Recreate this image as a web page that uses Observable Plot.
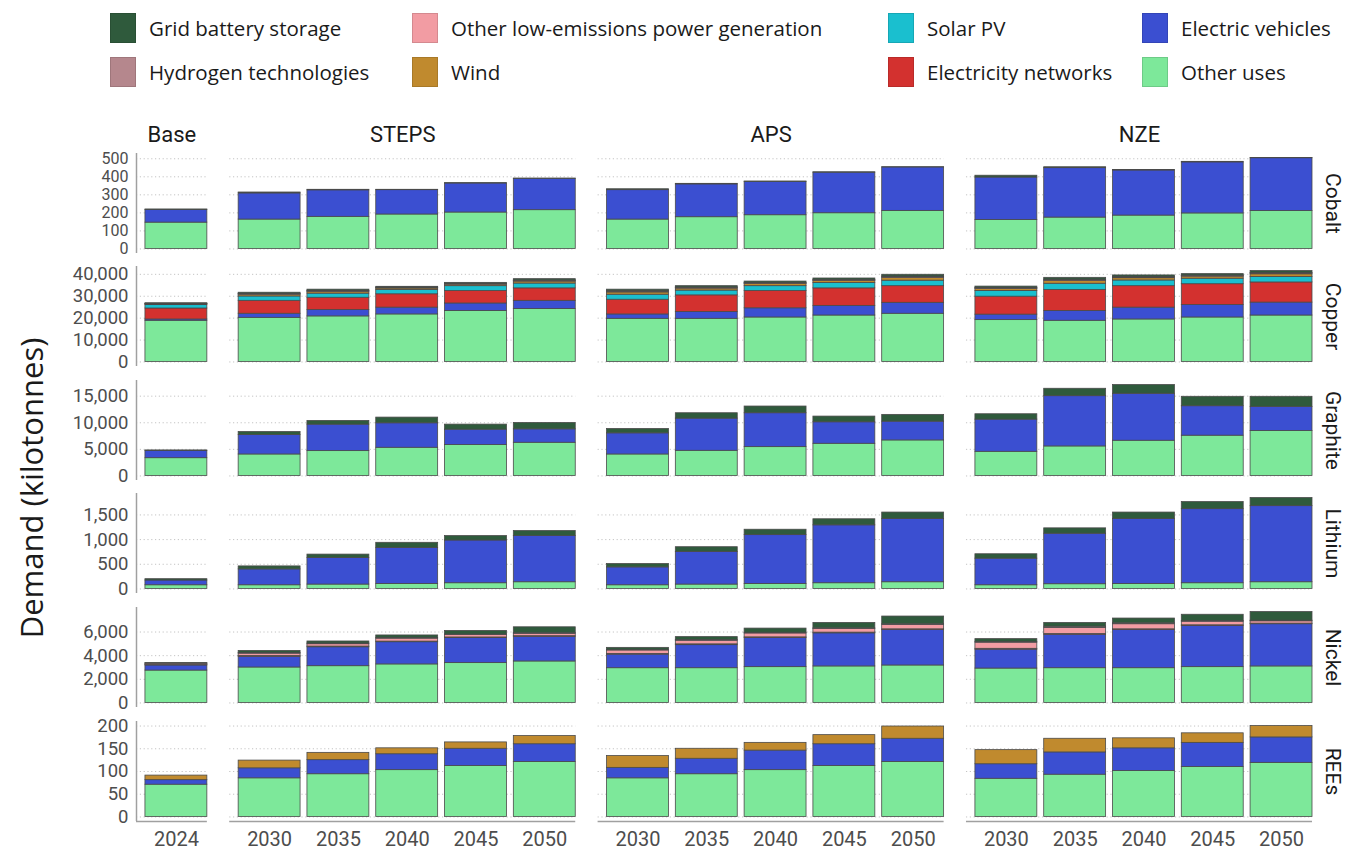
<!DOCTYPE html>
<html>
<head>
<meta charset="utf-8">
<script src="https://cdn.jsdelivr.net/npm/d3@7"></script>
<script src="https://cdn.jsdelivr.net/npm/@observablehq/plot@0.6"></script>
<style>
  body { margin: 0; background: #fff; font-family: Roboto, sans-serif; }
  #chart { position: relative; width: 1354px; height: 852px; overflow: hidden; background: #fff; }
  .legend { position: absolute; left: 110px; top: 13px; display: grid;
    grid-template-columns: 302px 476px 254px auto; grid-template-rows: 30px 30px;
    row-gap: 14px; grid-auto-flow: column; }
  .item { display: flex; align-items: center; font-family: "Open Sans", sans-serif; font-size: 20.5px; color: #1a1a1a; white-space: nowrap; }
  .sw { width: 26px; height: 30px; margin-right: 13px; box-sizing: border-box; border: 1px solid rgba(0,0,0,0.12); flex: none; }
  .ytitle { position: absolute; left: 31px; top: 488px; transform: translate(-50%, -50%) rotate(-90deg);
    font-family: "Open Sans", sans-serif; font-size: 31px; color: #1a1a1a; white-space: nowrap; }
  .row { position: absolute; left: 0; width: 1354px; }
</style>
</head>
<body>
<div id="chart"></div>
<script>
// Scenarios and the years shown under each
const scenarios = ["Base", "STEPS", "APS", "NZE"];
const scenarioYears = [
  ["2024"],
  ["2030", "2035", "2040", "2045", "2050"],
  ["2030", "2035", "2040", "2045", "2050"],
  ["2030", "2035", "2040", "2045", "2050"]
];

// End uses, stacked bottom to top
const categories = [
  "Other uses", "Electric vehicles", "Electricity networks", "Solar PV",
  "Wind", "Other low-emissions power generation", "Hydrogen technologies", "Grid battery storage"
];
const categoryColors = [
  "#7de89a", "#3b4fd1", "#d3312f", "#1abfcf",
  "#c08a2e", "#f29ca3", "#b5878d", "#2f5a3c"
];

const minerals = ["Cobalt", "Copper", "Graphite", "Lithium", "Nickel", "REEs"];

// Axis tick values per mineral
const cobaltTicks = [0, 100, 200, 300, 400, 500];
const copperTicks = [0, 10000, 20000, 30000, 40000];
const graphiteTicks = [0, 5000, 10000, 15000];
const lithiumTicks = [0, 500, 1000, 1500];
const nickelTicks = [0, 2000, 4000, 6000];
const reesTicks = [0, 50, 100, 150, 200];

// Demand in kilotonnes; 16 bars: Base 2024, then STEPS, APS, NZE for 2030..2050
const cobalt = {
  "Other uses":           [146, 163, 178, 191, 202, 215, 163, 176, 187, 198, 211, 161, 174, 185, 197, 210],
  "Electric vehicles":    [70, 145, 147, 135, 161, 174, 163, 182, 185, 225, 241, 235, 274, 250, 283, 293],
  "Grid battery storage": [3, 5, 3, 2, 2, 1, 5, 3, 2, 2, 1, 10, 5, 3, 3, 1]
};
const copper = {
  "Other uses":           [18800, 20150, 20800, 21700, 23300, 24200, 19700, 19700, 20300, 21200, 22000, 19100, 18800, 19400, 20300, 21200],
  "Electric vehicles":    [600, 1850, 2900, 3100, 3400, 3700, 2000, 3100, 4200, 4400, 5000, 2500, 4500, 5400, 5700, 5900],
  "Electricity networks": [5000, 5900, 5600, 6100, 5700, 5700, 6700, 7600, 7900, 8000, 7600, 8200, 9600, 9800, 9500, 9200],
  "Solar PV":             [1550, 2000, 1900, 2000, 2200, 2200, 2300, 2200, 2200, 2400, 2500, 2600, 2800, 2600, 2500, 2500],
  "Wind":                 [380, 770, 810, 630, 680, 900, 1040, 900, 950, 950, 1220, 900, 1220, 1040, 950, 1220],
  "Other low-emissions power generation": [130, 250, 270, 210, 220, 300, 340, 300, 310, 310, 400, 300, 400, 340, 310, 400],
  "Hydrogen technologies": [80, 170, 180, 140, 150, 200, 230, 200, 210, 210, 270, 200, 270, 230, 210, 270],
  "Grid battery storage": [260, 510, 540, 420, 450, 600, 690, 600, 630, 630, 810, 600, 810, 690, 630, 810]
};
const graphite = {
  "Other uses":           [3340, 4040, 4670, 5300, 5800, 6240, 4040, 4730, 5420, 6050, 6680, 4540, 5550, 6620, 7570, 8450],
  "Electric vehicles":    [1360, 3650, 4980, 4600, 2900, 2520, 3970, 6050, 6370, 4040, 3530, 6050, 9450, 8830, 5540, 4540],
  "Grid battery storage": [100, 570, 690, 1070, 950, 1200, 820, 1010, 1260, 1070, 1270, 1010, 1390, 1640, 1770, 1890]
};
const lithium = {
  "Other uses":           [75, 75, 89, 102, 116, 136, 75, 89, 102, 116, 136, 75, 96, 102, 116, 136],
  "Electric vehicles":    [96, 321, 539, 730, 866, 935, 362, 661, 989, 1173, 1283, 539, 1023, 1317, 1501, 1542],
  "Grid battery storage": [27, 61, 68, 103, 89, 102, 68, 96, 109, 123, 129, 89, 109, 129, 143, 164]
};
const nickel = {
  "Other uses":           [2740, 3000, 3110, 3260, 3370, 3510, 2940, 2940, 3030, 3090, 3170, 2910, 2940, 2940, 3030, 3090],
  "Electric vehicles":    [430, 910, 1600, 1880, 2120, 2090, 1150, 1950, 2460, 2800, 3000, 1600, 2830, 3230, 3480, 3570],
  "Electricity networks": [40, 60, 60, 50, 50, 50, 60, 70, 60, 60, 60, 70, 60, 60, 60, 50],
  "Other low-emissions power generation": [110, 200, 200, 250, 200, 200, 290, 300, 330, 300, 370, 520, 520, 430, 300, 200],
  "Hydrogen technologies": [20, 60, 60, 60, 50, 50, 60, 70, 60, 60, 60, 70, 100, 80, 60, 50],
  "Grid battery storage": [30, 170, 170, 210, 300, 500, 160, 240, 350, 460, 650, 230, 320, 400, 530, 730]
};
const rees = {
  "Other uses":           [71, 85, 94, 103, 112, 121, 85, 94, 103, 112, 121, 84, 93, 101, 110, 119],
  "Electric vehicles":    [10, 22, 31, 35, 38, 39, 23, 34, 43, 48, 51, 32, 49, 50, 53, 56],
  "Wind":                 [10, 17, 16, 13, 14, 18, 26, 22, 17, 20, 27, 31, 30, 22, 21, 25]
};

const mineralSeries = [cobalt, copper, graphite, lithium, nickel, rees];
const mineralTicks = [cobaltTicks, copperTicks, graphiteTicks, lithiumTicks, nickelTicks, reesTicks];

// ---- layout ----
const W = 1354;
const GROUP_GAP = 0.355;   // extra space between scenario panels, in bar slots
const BAR_W = 0.9;         // bar width as a share of one slot
const PAD_LEFT = 0.13;     // panel padding left of its first bar
const PANEL_H = 100;
const ROW_PITCH = 113.6;
const FIRST_TOP = 152.5;

// Bar slots along x
const bars = [];
scenarioYears.forEach((years, g) => {
  years.forEach(year => {
    const i = bars.length;
    const pos = i + g * GROUP_GAP;
    bars.push({scenario: scenarios[g], year, i, x1: pos, x2: pos + BAR_W, xc: pos + BAR_W / 2});
  });
});
const panels = scenarios.map(s => {
  const bs = bars.filter(b => b.scenario === s);
  const x1 = bs[0].x1 - PAD_LEFT, x2 = bs[bs.length - 1].x2;
  return {scenario: s, x1, x2, xc: (x1 + x2) / 2};
});
const xDomain = [panels[0].x1, panels[panels.length - 1].x2];
const xRange = [136, 1312];

const chart = document.getElementById("chart");

// Legend: column-wise, top of stack first
const legend = document.createElement("div");
legend.className = "legend";
categories.slice().reverse().forEach(cat => {
  const item = document.createElement("div");
  item.className = "item";
  const sw = document.createElement("span");
  sw.className = "sw";
  sw.style.background = categoryColors[categories.indexOf(cat)];
  item.appendChild(sw);
  item.appendChild(document.createTextNode(cat));
  legend.appendChild(item);
});
chart.appendChild(legend);

const ytitle = document.createElement("div");
ytitle.className = "ytitle";
ytitle.textContent = "Demand (kilotonnes)";
chart.appendChild(ytitle);

minerals.forEach((name, r) => {
  const series = mineralSeries[r];
  const ticks = mineralTicks[r];
  const rows = [];
  bars.forEach(b => {
    categories.forEach(cat => {
      const v = series[cat] ? series[cat][b.i] : 0;
      if (v > 0) rows.push({category: cat, value: v, x1: b.x1, x2: b.x2});
    });
  });
  const totals = bars.map(b => d3.sum(categories, c => series[c] ? series[c][b.i] : 0));
  const maxT = d3.max(totals);
  const yDomain = [-0.05 * maxT, 1.05 * maxT];

  const first = r === 0, last = r === minerals.length - 1;
  const mt = first ? 42 : 4;
  const mb = last ? 36 : 4;
  const grid = panels.flatMap(p => ticks.map(t => ({x1: p.x1, x2: p.x2, y: t})));
  // six ticks share the first panel, so its labels are set a little smaller
  const tickFont = ticks.length > 5 ? 16 : 18.5;

  const marks = [
    Plot.ruleY(grid, {x1: "x1", x2: "x2", y: "y", stroke: "#c4c4c4", strokeWidth: 1, strokeDasharray: "1.2,2.6"}),
    Plot.rectY(rows, {x1: "x1", x2: "x2", y: "value", fill: "category", stroke: "#4a4a4a", strokeWidth: 0.8, order: null}),
    Plot.axisY({ticks, tickFormat: d3.format(","), tickSize: 0, tickPadding: 8, fontSize: tickFont, color: "#4d4d4d", label: null}),
    Plot.ruleX([xDomain[0]], {stroke: "#a0a0a0", strokeWidth: 1.5}),
    Plot.text([name], {frameAnchor: "right", dx: 20, rotate: 90, textAnchor: "middle", lineAnchor: "middle", fontSize: 21, fill: "#1a1a1a"})
  ];
  if (first) {
    marks.push(Plot.text(panels, {x: "xc", text: "scenario", frameAnchor: "top", dy: -19, lineAnchor: "middle", fontSize: 22, fill: "#1a1a1a"}));
  }
  if (last) {
    marks.push(Plot.ruleY(panels, {x1: "x1", x2: "x2", y: yDomain[0], stroke: "#a0a0a0", strokeWidth: 1.5}));
    marks.push(Plot.text(bars, {x: "xc", text: "year", frameAnchor: "bottom", dy: 18, lineAnchor: "middle", fontSize: 20, fill: "#4d4d4d"}));
  }

  const svg = Plot.plot({
    width: W,
    height: mt + PANEL_H + mb,
    marginTop: mt, marginBottom: mb, marginLeft: 136, marginRight: 42,
    x: {domain: xDomain, range: xRange, axis: null},
    y: {domain: yDomain, axis: null},
    color: {domain: categories, range: categoryColors},
    style: {fontFamily: "Roboto, sans-serif", background: "transparent", overflow: "visible"},
    marks
  });
  const wrap = document.createElement("div");
  wrap.className = "row";
  wrap.style.top = (Math.round(FIRST_TOP + r * ROW_PITCH) - mt) + "px";
  wrap.appendChild(svg);
  chart.appendChild(wrap);
});
</script>
</body>
</html>
